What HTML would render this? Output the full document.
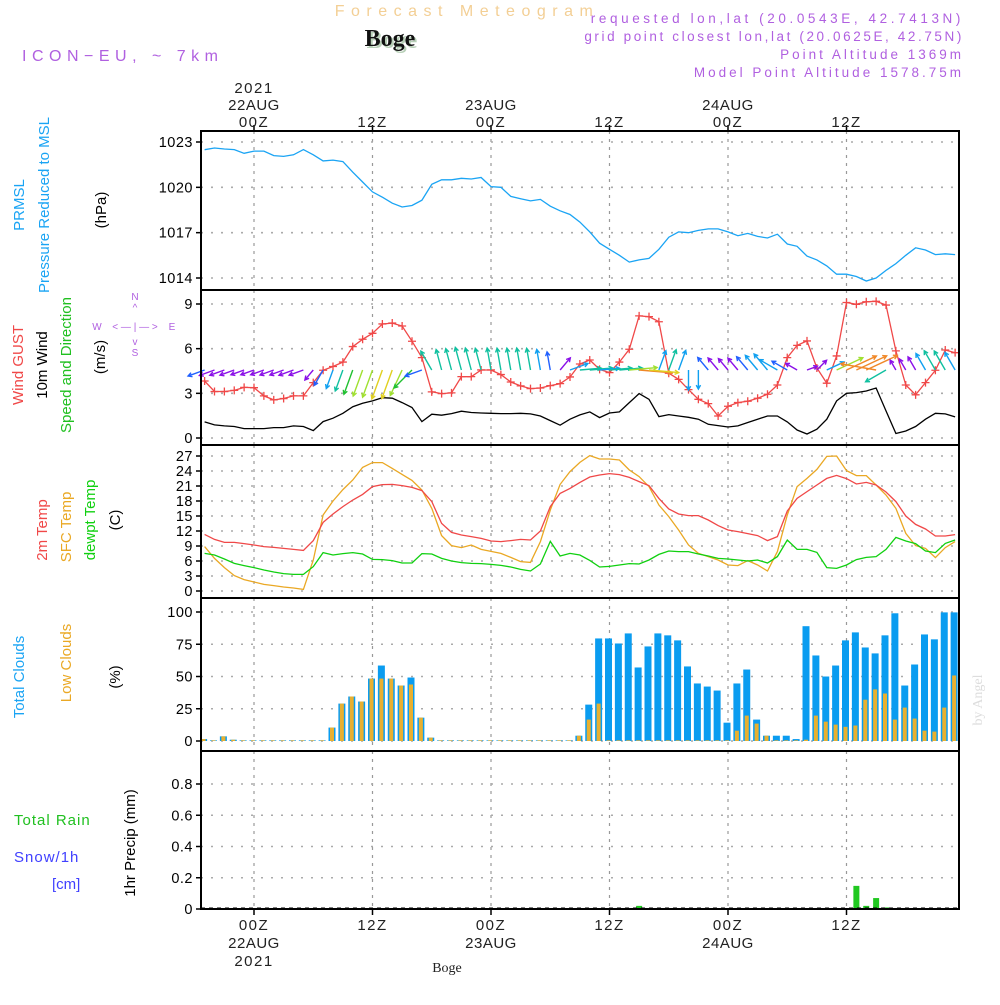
<!DOCTYPE html>
<html><head><meta charset="utf-8"><style>
html,body{margin:0;padding:0;background:#fff;}
svg text{font-family:"Liberation Sans",sans-serif;}
</style></head><body>
<svg id="chart" width="1000" height="1000" viewBox="0 0 1000 1000" xmlns="http://www.w3.org/2000/svg">
<rect width="1000" height="1000" fill="#fff"/>
<g id="hdr">
<text x="467" y="16" font-size="16" fill="#f3cf95" text-anchor="middle" letter-spacing="6.5">Forecast Meteogram</text>
<text x="392" y="48" font-size="24" font-weight="bold" fill="#b8d0b8" text-anchor="middle" style="font-family:'Liberation Serif',serif">Boge</text>
<text x="390" y="46" font-size="24" font-weight="bold" fill="#111" text-anchor="middle" style="font-family:'Liberation Serif',serif">Boge</text>
<text x="22" y="61" font-size="16" fill="#b060e0" letter-spacing="5.5">ICON−EU, ~ 7km</text>
<text x="964" y="23" font-size="13.5" fill="#b060e0" text-anchor="end" letter-spacing="3.6">requested lon,lat (20.0543E, 42.7413N)</text>
<text x="964" y="41" font-size="13.5" fill="#b060e0" text-anchor="end" letter-spacing="2.6">grid point closest lon,lat (20.0625E, 42.75N)</text>
<text x="964" y="59" font-size="13.5" fill="#b060e0" text-anchor="end" letter-spacing="3">Point Altitude 1369m</text>
<text x="964" y="77" font-size="13.5" fill="#b060e0" text-anchor="end" letter-spacing="3">Model Point Altitude 1578.75m</text>
</g>
<g id="grid"></g>
<g id="marks"></g>
<g id="frame"></g>
<g id="labels"></g>
</svg>
<script>
const hours = [];
for (let h = -5; h <= 71; h++) hours.push(h);
const pressure = [1022.49,1022.6,1022.54,1022.5,1022.25,1022.4,1022.4,1022.1,1022.05,1022.15,1022.5,1022.15,1021.75,1021.8,1021.7,1021.0,1020.35,1019.7,1019.35,1018.95,1018.7,1018.8,1019.15,1020.2,1020.5,1020.5,1020.6,1020.55,1020.65,1020.05,1020.0,1019.4,1019.25,1019.1,1019.2,1018.75,1018.45,1018.2,1017.7,1017.05,1016.3,1015.9,1015.5,1015.05,1015.2,1015.3,1015.9,1016.7,1017.05,1017.0,1017.15,1017.25,1017.25,1017.05,1016.8,1016.95,1016.75,1016.65,1016.9,1016.25,1016.1,1015.45,1015.2,1014.8,1014.25,1014.25,1014.1,1013.8,1014.0,1014.5,1014.95,1015.5,1016.0,1015.85,1015.55,1015.6,1015.55];
const gust = [3.83,3.12,3.12,3.2,3.4,3.38,2.83,2.56,2.65,2.83,2.83,3.72,4.55,4.8,5.1,6.14,6.63,7.03,7.66,7.72,7.52,6.5,5.4,3.1,2.98,3.03,4.12,4.12,4.57,4.57,4.26,3.76,3.5,3.32,3.36,3.52,3.65,4.1,4.97,5.24,4.61,4.39,5.1,5.96,8.2,8.15,7.81,4.35,3.94,3.25,2.6,2.31,1.48,2.13,2.38,2.47,2.67,2.94,3.56,5.4,6.22,6.52,4.7,3.68,5.51,9.1,8.98,9.15,9.18,8.93,5.85,3.56,2.9,3.72,4.55,5.91,5.73];
const windSpeed = [1.08,0.88,0.81,0.77,0.63,0.63,0.63,0.7,0.7,0.81,0.77,0.5,1.1,1.33,1.66,2.1,2.33,2.49,2.71,2.67,2.38,2.05,1.1,1.6,1.53,1.64,1.8,1.71,1.68,1.66,1.64,1.64,1.66,1.62,1.48,1.17,0.86,1.26,1.55,1.75,1.37,1.68,1.75,2.38,2.98,2.6,1.44,1.57,1.48,1.39,1.26,0.92,0.83,0.74,0.81,1.04,1.26,1.48,1.48,1.08,0.54,0.27,0.59,1.26,2.49,3.0,3.05,3.16,3.36,1.82,0.3,0.47,0.77,1.26,1.66,1.62,1.42];
const windDir = [70,70,70,70,70,70,70,70,70,70,70,40,30,20,20,20,20,20,20,20,25,45,70,150,165,165,165,165,165,170,170,170,170,170,170,170,220,250,265,265,265,265,265,265,275,275,200,200,200,0,0,140,140,140,140,140,140,140,120,120,120,250,225,245,245,245,245,245,100,60,150,150,150,150,150,150,150];
const temp2m = [11.33,10.33,9.73,9.73,9.47,9.2,8.87,8.73,8.53,8.33,8.13,10.07,13.73,15.4,16.87,18.2,19.33,20.87,21.27,21.33,21.07,20.73,20.07,17.87,13.53,11.73,11.2,10.87,10.53,10.0,9.87,10.07,10.33,10.2,12.0,16.87,19.53,20.53,21.73,22.8,23.2,23.47,23.27,22.73,21.87,21.07,18.53,16.4,15.4,15.07,15.07,14.2,13.07,12.2,11.87,11.47,11.07,10.07,10.87,16.0,18.53,19.87,21.2,22.53,23.13,22.47,21.4,21.73,21.2,19.8,17.87,15.0,13.33,12.4,11.0,11.0,11.27];
const tempSfc = [8.87,6.53,4.67,3.07,2.27,1.8,1.33,1.07,0.8,0.6,0.33,6.2,15.2,18.0,20.27,22.2,24.73,25.67,25.67,24.53,23.33,22.13,20.2,16.53,11.07,9.07,8.67,9.2,8.33,7.93,7.53,6.73,5.87,5.73,9.87,16.2,21.33,23.87,25.73,27.07,26.4,26.4,26.2,24.2,22.87,20.87,17.2,14.87,12.2,9.2,7.53,6.87,6.2,5.2,5.07,6.07,5.2,4.0,7.87,15.2,20.87,22.53,24.33,26.93,27.0,24.07,23.07,23.07,21.2,19.2,16.53,11.53,9.07,8.53,6.67,8.67,9.87];
const dewpt = [7.53,7.2,6.4,5.53,5.07,4.67,4.2,3.8,3.47,3.33,3.33,4.87,7.67,7.2,7.47,7.67,7.4,6.33,6.27,6.07,5.6,5.6,7.47,7.4,6.53,6.0,5.67,5.53,5.47,5.33,5.13,4.8,4.33,4.0,5.4,9.93,7.0,7.53,7.2,6.13,4.8,4.93,5.2,5.47,5.4,6.2,7.33,8.0,7.87,7.87,7.4,7.0,6.53,6.4,6.2,6.0,6.2,5.6,6.87,10.2,8.33,8.33,7.73,4.67,4.53,5.2,6.27,6.73,6.87,8.33,10.73,10.0,9.47,8.0,7.67,9.53,10.2];
const totalClouds = [1.5,0.5,3.6,1,0.5,0.5,0.5,0.5,0.5,0.5,0.5,0.5,0.5,10.4,29,34.5,30.6,48.4,58.5,48.4,43,49.2,18.1,2.6,0.5,0.5,0.5,0.5,0.5,0.5,0.5,0.5,0.5,0.5,0.5,0.5,0.5,0.5,4.1,28.2,79.5,79.5,75.6,83.4,57,73.3,83.4,81.9,78,57.8,44.6,42.2,39.1,14.2,44.6,55.4,16.6,4.1,4.1,4.1,1.5,89,66.3,50,58.5,78,84.2,72.5,67.9,81.9,99,43,59.3,82.6,78.8,99.7,99.7];
const lowClouds = [1.5,0.5,3.6,1,0.5,0.5,0.5,0.5,0.5,0.5,0.5,0.5,0.5,10.4,29,34.5,30.6,48.4,48.4,48.4,43,43.8,18.1,2.6,0.5,0.5,0.5,0.5,0.5,0.5,0.5,0.5,0.5,0.5,0.5,0.5,0.5,0.5,4.1,16.6,29,0.5,0.5,0.5,0.5,0.5,0.5,0.5,0.5,0.5,0.5,0.5,0.5,0.5,8,19.7,13.5,4.1,0.5,0.5,0.5,1,19.7,15,12.7,11,12,32,40,36.8,16.6,25.9,17.4,8,7.3,25.9,50.8];
const precip = [0,0,0,0,0,0,0,0,0,0,0,0,0,0,0,0,0,0,0,0,0,0,0,0,0,0,0,0,0,0,0,0,0,0,0,0,0,0,0,0,0,0,0,0,0.02,0,0,0,0,0,0,0,0,0,0,0,0,0,0,0,0,0,0,0,0,0,0.148,0.02,0.07,0.01,0,0,0,0,0,0,0];
const pTicks = [1014,1017,1020,1023];
const wTicks = [0,3,6,9];
const tTicks = [0,3,6,9,12,15,18,21,24,27];
const cTicks = [0,25,50,75,100];
const rTicks = [0,0.2,0.4,0.6,0.8];
const timeTicks = [0,12,24,36,48,60];
const timeLabels = ["00Z","12Z","00Z","12Z","00Z","12Z"];
const dateLabels = ["22AUG","","23AUG","","24AUG",""];

const NS="http://www.w3.org/2000/svg";
function mk(tag, attrs, parent, txt){const e=document.createElementNS(NS,tag);for(const k in attrs)e.setAttribute(k,attrs[k]);if(txt!==undefined)e.textContent=txt;parent.appendChild(e);return e;}
const X0=201,X1=959;
const xh = h => 254 + h*9.875;
function lin(v0,y0,v1,y1){return v=>y0+(v-v0)*(y1-y0)/(v1-v0);}
const yP=lin(1023,142,1014,278), yW=lin(0,438,9,304), yT=lin(0,591,27,456), yC=lin(0,741,100,612), yR=lin(0,909,0.8,784);
const grid=document.getElementById('grid'), marks=document.getElementById('marks'), frame=document.getElementById('frame'), labels=document.getElementById('labels');
const panels=[[131,290,yP,pTicks,v=>String(v)],[290,445,yW,wTicks,v=>String(v)],[445,598,yT,tTicks,v=>String(v)],[598,751,yC,cTicks,v=>String(v)],[751,909,yR,rTicks,v=>v===0?"0":v.toFixed(1)]];
panels.forEach(([top,bot,ys,ticks,fmt],pi)=>{
  timeTicks.forEach(h=>{const l=mk('line',{x1:xh(h),x2:xh(h),y1:top,y2:bot,stroke:'#999','stroke-width':1.2,'stroke-dasharray':'3,5'},grid);
    
    });
  ticks.forEach(v=>{const y=ys(v);
    const g=mk('line',{x1:X0,x2:X1,y1:y,y2:y,stroke:'#aaa','stroke-width':1.6,'stroke-dasharray':'2,8'},grid);
    
    
    mk('line',{x1:X0-5,x2:X0,y1:y,y2:y,stroke:'#000','stroke-width':1.5},frame);
    const t=mk('text',{x:X0-8,y:y+5,'font-size':14.5,'text-anchor':'end',fill:'#000','letter-spacing':'0.5'},labels,fmt(v));
    
    });
});
function poly(arr,ys,color,name,w){const pts=arr.map((v,i)=>xh(hours[i]).toFixed(1)+','+ys(v).toFixed(1)).join(' ');
  const p=mk('polyline',{points:pts,fill:'none',stroke:color,'stroke-width':w||1.3},marks);
  
  return p;}
poly(pressure,yP,'#1aa4f4','pressure-line');
poly(windSpeed,yW,'#000','wind-speed-line');
poly(gust,yW,'#f04848','wind-gust-line');
gust.forEach((v,i)=>{const x=xh(hours[i]),y=yW(v);
  const m=mk('path',{d:`M${x-4},${y}H${x+4}M${x},${y-4}V${y+4}`,stroke:'#f04848','stroke-width':1.3},marks);
  
  });
function wcol(s){return s<0.9?'#8a10e8':s<1.2?'#2060ff':s<1.5?'#10a0f0':s<1.9?'#10c0a0':s<2.3?'#20c030':s<2.6?'#a0e030':s<2.9?'#e0d020':'#f08828';}
windDir.forEach((d,i)=>{const s=windSpeed[i];const x=xh(hours[i]),y=370;
  const L=9+s*8;const a=(d+180)*Math.PI/180;const dx=Math.sin(a)*L,dy=-Math.cos(a)*L;
  const ex=x+dx,ey=y+dy;const ang=Math.atan2(dy,dx);const hl=4.5;
  const c=wcol(s);
  const ar=mk('path',{d:`M${x},${y}L${ex},${ey}M${ex-hl*Math.cos(ang-0.5)},${ey-hl*Math.sin(ang-0.5)}L${ex},${ey}L${ex-hl*Math.cos(ang+0.5)},${ey-hl*Math.sin(ang+0.5)}`,stroke:c,'stroke-width':1.4,fill:'none'},marks);
  
  });
poly(tempSfc,yT,'#eaa824','sfc-temp-line');
poly(temp2m,yT,'#f04848','temp-2m-line');
poly(dewpt,yT,'#10d010','dewpt-line');
totalClouds.forEach((v,i)=>{const x=xh(hours[i])-1;
  const b=mk('rect',{x:x-3.5,y:yC(v),width:7,height:yC(0)-yC(v),fill:'#0a9cf0'},marks);
  
  
  const lv=lowClouds[i];
  const o=mk('rect',{x:x-2,y:yC(lv),width:4,height:yC(0)-yC(lv),fill:'#e8b030'},marks);
  
  });
precip.forEach((v,i)=>{if(v<=0)return;const x=xh(hours[i]);
  const b=mk('rect',{x:x-3,y:yR(v),width:6,height:yR(0)-yR(v),fill:'#20c820'},marks);
  
  });
const bl=mk('line',{x1:X0,x2:X1,y1:908,y2:908,stroke:'#000','stroke-width':1,'stroke-dasharray':'4,4'},marks);


const fr=mk('rect',{x:X0,y:131,width:X1-X0,height:909-131,fill:'none',stroke:'#000','stroke-width':2},frame);


[290,445,598,751].forEach(y=>{const s=mk('line',{x1:X0,x2:X1,y1:y,y2:y,stroke:'#000','stroke-width':2},frame);
  
  });
timeTicks.forEach((h,i)=>{const x=xh(h);
  mk('line',{x1:x,x2:x,y1:125,y2:131,stroke:'#000','stroke-width':1.5},frame);
  mk('line',{x1:x,x2:x,y1:909,y2:915,stroke:'#000','stroke-width':1.5},frame);
  const t1=mk('text',{x:x,y:127,'font-size':15,'text-anchor':'middle',fill:'#222','letter-spacing':'1.5'},labels,timeLabels[i]);
  
  
  const t2=mk('text',{x:x,y:930,'font-size':15,'text-anchor':'middle',fill:'#222','letter-spacing':'1.5'},labels,timeLabels[i]);
  
  
  if(dateLabels[i]){
    const d1=mk('text',{x:x,y:110,'font-size':15,'text-anchor':'middle',fill:'#222','letter-spacing':'0.5'},labels,dateLabels[i]);
    
    
    const d2=mk('text',{x:x,y:948,'font-size':15,'text-anchor':'middle',fill:'#222','letter-spacing':'0.5'},labels,dateLabels[i]);
    
    }
});
</script>
<svg style="position:absolute;left:0;top:0" width="1000" height="1000" xmlns="http://www.w3.org/2000/svg">
<g font-family="Liberation Sans, sans-serif" font-size="15">
<text x="254" y="93" text-anchor="middle" fill="#222" letter-spacing="1.5">2021</text>
<text x="254" y="966" text-anchor="middle" fill="#222" letter-spacing="1.5">2021</text>
<text x="447" y="972" text-anchor="middle" font-size="14" fill="#222" style="font-family:'Liberation Serif',serif">Boge</text>
<text transform="translate(24,205) rotate(-90)" text-anchor="middle" fill="#1aa4f4">PRMSL</text>
<text transform="translate(49,205) rotate(-90)" text-anchor="middle" fill="#1aa4f4">Pressure Reduced to MSL</text>
<text transform="translate(106,210) rotate(-90)" text-anchor="middle" fill="#000">(hPa)</text>
<text transform="translate(23,365) rotate(-90)" text-anchor="middle" fill="#f04848">Wind GUST</text>
<text transform="translate(47,365) rotate(-90)" text-anchor="middle" fill="#000">10m Wind</text>
<text transform="translate(71,365) rotate(-90)" text-anchor="middle" fill="#20c020">Speed and Direction</text>
<text transform="translate(105,357) rotate(-90)" text-anchor="middle" fill="#000">(m/s)</text>
<g fill="#b060e0" font-size="10">
<text x="135" y="300" text-anchor="middle">N</text><text x="135" y="311" text-anchor="middle">^</text>
<text x="97" y="330" text-anchor="middle">W</text><text x="135" y="330" text-anchor="middle">&lt; — | — &gt;</text>
<text x="172" y="330" text-anchor="middle">E</text><text x="135" y="345" text-anchor="middle">v</text><text x="135" y="356" text-anchor="middle">S</text>
</g>
<text transform="translate(47,530) rotate(-90)" text-anchor="middle" fill="#f04848">2m Temp</text>
<text transform="translate(71,527) rotate(-90)" text-anchor="middle" fill="#eaa824">SFC Temp</text>
<text transform="translate(95,520) rotate(-90)" text-anchor="middle" fill="#10d010">dewpt Temp</text>
<text transform="translate(120,520) rotate(-90)" text-anchor="middle" fill="#000">(C)</text>
<text transform="translate(24,677) rotate(-90)" text-anchor="middle" fill="#1aa4f4">Total Clouds</text>
<text transform="translate(71,663) rotate(-90)" text-anchor="middle" fill="#eaa824">Low Clouds</text>
<text transform="translate(120,677) rotate(-90)" text-anchor="middle" fill="#000">(%)</text>
<text x="14" y="825" fill="#20c020" letter-spacing="1">Total  Rain</text>
<text x="14" y="862" fill="#4040ff" letter-spacing="1">Snow/1h</text>
<text x="52" y="889" fill="#4040ff">[cm]</text>
<text transform="translate(135,843) rotate(-90)" text-anchor="middle" fill="#000">1hr Precip (mm)</text>
<text transform="translate(982,700) rotate(-90)" text-anchor="middle" font-size="14" fill="#ddd" style="font-family:'Liberation Serif',serif">by Angel</text>
</g>
</svg>
</body></html>
